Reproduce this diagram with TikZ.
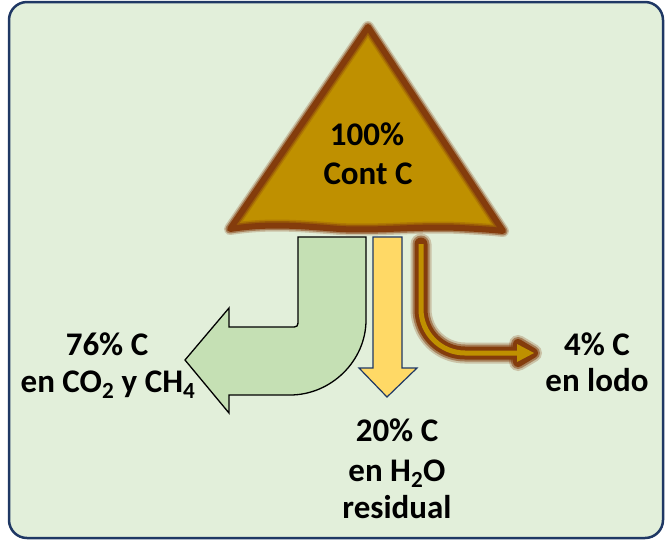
\documentclass[tikz,border=0pt]{standalone}
\usepackage{fontspec}
\setmainfont{Carlito}
\usetikzlibrary{positioning, arrows.meta}
\definecolor{bgGreen}{HTML}{E2EFDA}
\definecolor{frameBlue}{HTML}{1F3864}
\definecolor{cakeGold}{HTML}{BF9000}
\definecolor{cakeBrown}{HTML}{843C0C}
\definecolor{gasGreen}{HTML}{C5E0B4}
\definecolor{waterYellow}{HTML}{FFD966}

\begin{document}
\begin{tikzpicture}[x=1pt, y=-1pt,
    lbl/.style={font=\fontsize{33}{38}\selectfont\bfseries, anchor=base, inner sep=0pt},
    glow/.style={draw=cakeBrown, line join=round, line cap=round}]
    \useasboundingbox (0,0) rectangle (669,550);

    % Frame
    \draw[frameBlue, line width=2.5pt, fill=bgGreen, rounded corners=18pt] (9,2) rectangle (663,538);

    % Solid cake (triangle)
    \fill[cakeGold] (368,27) -- (230,229) .. controls (270,223) and (300,226) .. (340,229)
        .. controls (380,231) and (420,226) .. (460,228)
        .. controls (480,229) and (495,230) .. (503,231) -- cycle;
    \foreach \w/\o in {12/0.25, 9/0.5, 6/1} {
        \draw[glow, line width=\w pt, draw opacity=\o]
            (368,27) -- (230,229) .. controls (270,223) and (300,226) .. (340,229)
            .. controls (380,231) and (420,226) .. (460,228)
            .. controls (480,229) and (495,230) .. (503,231) -- cycle;
    }

    % Gas arrow
    \draw[black, line width=1.3pt, fill=gasGreen, line join=miter]
        (298,237) -- (366,237) -- (366,320)
        .. controls (366,361) and (331,395) .. (290,395)
        -- (229,395) -- (229,413) -- (185,360) -- (229,308) -- (229,327) -- (290,327)
        .. controls (298,327) .. (298,319) -- cycle;

    % Water arrow
    \draw[frameBlue, line width=1.2pt, fill=waterYellow, line join=miter]
        (373,237) -- (402,237) -- (402,368) -- (417,368) -- (387,397) -- (359,368) -- (373,368) -- cycle;

    % Sludge arrow
    \coordinate (sludgetop) at (421,244);
    \coordinate (sludgeend) at (518,353);
    \foreach \w/\o in {21/0.25, 17/0.5, 13/1} {
        \draw[glow, line width=\w pt, draw opacity=\o, rounded corners=44pt] (sludgetop) |- (sludgeend);
        \draw[glow, line width=\w pt - 3pt, draw opacity=\o, fill=cakeBrown, fill opacity=\o]
            (518,344) -- (533,353) -- (518,362) -- cycle;
    }
    \draw[cakeGold, line width=5pt, rounded corners=44pt] (sludgetop) |- (sludgeend);
    \fill[cakeGold] (517,344) -- (534,353) -- (517,362) -- cycle;

    % Labels
    \node[lbl] (total) at (367,145) {100\%};
    \node[lbl] (totalsub) at (368,184) {Cont C};
    \node[lbl] (gas) at (107,355) {76\% C};
    \node[lbl] (gassub) at (108,392) {en CO\textsubscript{2} y CH\textsubscript{4}};
    \node[lbl] (sludge) at (597,355) {4\% C};
    \node[lbl] (sludgesub) at (597,391) {en lodo};
    \node[lbl] (water) at (397,441) {20\% C};
    \node[lbl] (watersub) at (397,481) {en H\textsubscript{2}O};
    \node[lbl] (waterres) at (397,518) {residual};
\end{tikzpicture}
\end{document}
